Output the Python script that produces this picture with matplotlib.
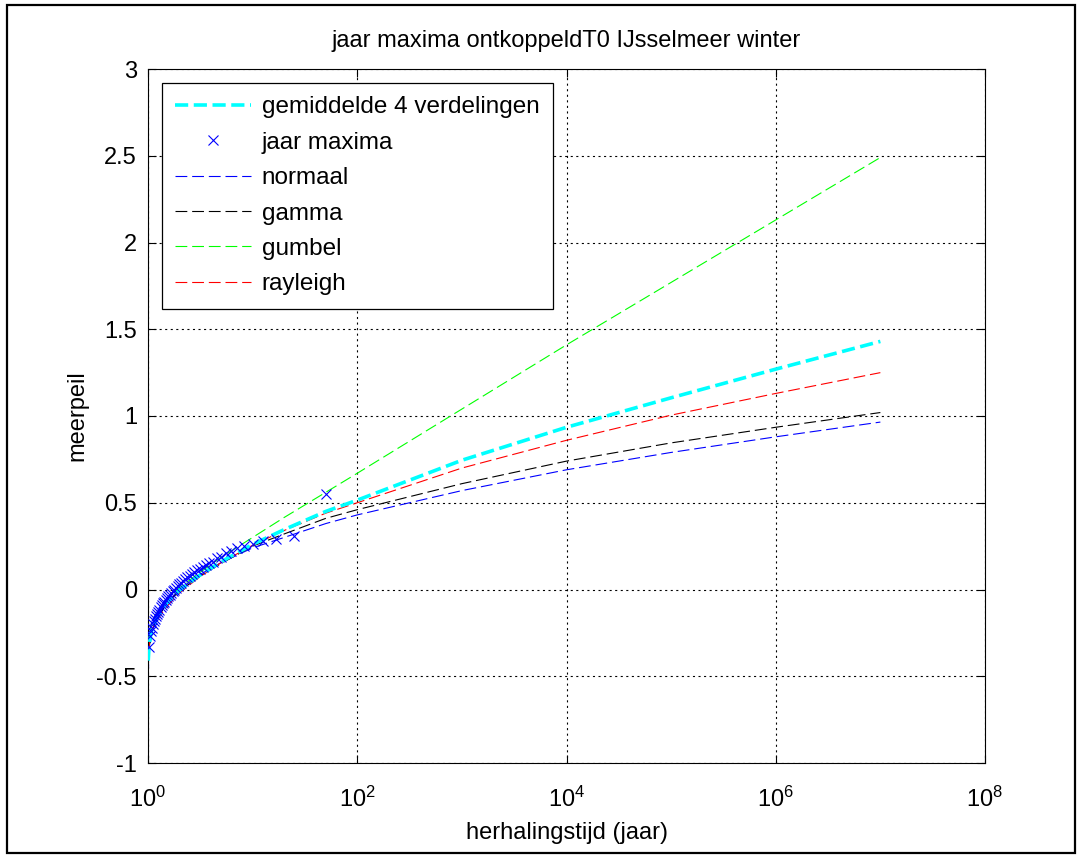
import matplotlib
matplotlib.use('Agg')
import matplotlib.pyplot as plt
from matplotlib.patches import Rectangle
import numpy as np

plt.rcParams['font.family'] = ['Liberation Sans', 'DejaVu Sans']
plt.rcParams['mathtext.default'] = 'regular'
plt.rcParams['lines.scale_dashes'] = False

# empirical annual maxima (return period T = 50/m)
T_obs = [50, 25, 16.7, 12.5, 10, 8.33, 7.14, 6.25, 5.56, 5.0, 4.55, 4.17, 3.85,
         3.57, 3.33, 3.125, 2.94, 2.78, 2.63, 2.5, 2.38, 2.27, 2.17, 2.08, 2.0,
         1.92, 1.85, 1.79, 1.72, 1.67, 1.61, 1.56, 1.52, 1.47, 1.43, 1.39, 1.35,
         1.32, 1.28, 1.25, 1.22, 1.19, 1.16, 1.14, 1.11, 1.09, 1.06, 1.04, 1.02]
y_obs = [0.55, 0.31, 0.29, 0.28, 0.26, 0.25, 0.24, 0.22, 0.21, 0.19, 0.18, 0.16,
         0.15, 0.14, 0.13, 0.12, 0.11, 0.10, 0.09, 0.08, 0.07, 0.06, 0.05, 0.04,
         0.03, 0.02, 0.01, 0.00, -0.01, -0.02, -0.03, -0.04, -0.05, -0.06, -0.07,
         -0.08, -0.09, -0.10, -0.12, -0.13, -0.14, -0.15, -0.17, -0.18, -0.20,
         -0.22, -0.24, -0.27, -0.33]

# fitted distributions
T_fit = [1.005, 1.02, 1.05, 1.1, 1.2, 1.5, 2, 3, 5, 10, 20, 50, 1e2, 1e3, 1e4, 1e5, 1e6, 1e7]
normaal = [-0.50, -0.38, -0.31, -0.24, -0.18, -0.08, 0.00, 0.08, 0.155, 0.24, 0.30, 0.38,
           0.43, 0.57, 0.69, 0.79, 0.88, 0.965]
gamma = [-0.42, -0.35, -0.29, -0.23, -0.18, -0.08, -0.01, 0.07, 0.15, 0.25, 0.32, 0.41,
         0.46, 0.61, 0.74, 0.845, 0.935, 1.02]
gumbel = [-0.36, -0.31, -0.23, -0.18, -0.14, -0.065, 0.01, 0.09, 0.185, 0.30, 0.415, 0.56,
          0.67, 1.04, 1.41, 1.77, 2.13, 2.49]
rayleigh = [-0.37, -0.34, -0.27, -0.23, -0.185, -0.10, -0.02, 0.065, 0.155, 0.255, 0.34,
            0.44, 0.50, 0.70, 0.86, 1.005, 1.13, 1.25]
gemiddelde = [-0.41, -0.345, -0.275, -0.22, -0.17, -0.08, -0.005, 0.075, 0.16, 0.26,
              0.345, 0.45, 0.515, 0.745, 0.935, 1.105, 1.27, 1.43]

xticks = [1e0, 1e2, 1e4, 1e6, 1e8]
xticklabels = [r'$10^{0}$', r'$10^{2}$', r'$10^{4}$', r'$10^{6}$', r'$10^{8}$']
yticks = [-1, -0.5, 0, 0.5, 1, 1.5, 2, 2.5, 3]
yticklabels = ['-1', '-0.5', '0', '0.5', '1', '1.5', '2', '2.5', '3']

fig = plt.figure(figsize=(10.81, 8.58), dpi=100)
ax = fig.add_axes([148/1081, 1 - 763/858, 837/1081, 694/858])

ax.plot(T_fit, gemiddelde, color='cyan', lw=2.6, dashes=(9.5, 4), label='gemiddelde 4 verdelingen', zorder=4)
ax.plot(T_obs, y_obs, 'x', color='blue', ms=7.5, mew=0.8, label='jaar maxima', zorder=5)
ax.plot(T_fit, normaal, color='blue', lw=0.8, dashes=(8.5, 3.5), label='normaal')
ax.plot(T_fit, gamma, color='black', lw=0.8, dashes=(8.5, 3.5), label='gamma')
ax.plot(T_fit, gumbel, color='#00ff00', lw=0.8, dashes=(8.5, 3.5), label='gumbel')
ax.plot(T_fit, rayleigh, color='red', lw=0.8, dashes=(8.5, 3.5), label='rayleigh')

ax.set_xscale('log')
ax.set_xlim(1, 1e8)
ax.set_ylim(-1, 3)
ax.set_xticks(xticks)
ax.set_xticklabels(xticklabels)
ax.xaxis.set_minor_locator(matplotlib.ticker.NullLocator())
ax.set_yticks(yticks)
ax.set_yticklabels(yticklabels)
ax.tick_params(direction='in', top=True, right=True, labelsize=17, length=6, width=0.8)
ax.tick_params(axis='x', pad=17)
ax.tick_params(axis='y', pad=8)
ax.grid(True, color='black', linestyle=(0, (1.5, 2.5)), linewidth=0.8)
for s in ax.spines.values():
    s.set_linewidth(0.8)

ax.set_title('jaar maxima ontkoppeldT0 IJsselmeer winter', fontsize=17, pad=16)
ax.set_xlabel('herhalingstijd (jaar)', fontsize=17, labelpad=7)
ax.set_ylabel('meerpeil', fontsize=17, labelpad=6)

leg = ax.legend(loc='upper left', fontsize=17.5, frameon=True, fancybox=False,
                edgecolor='black', framealpha=1, handlelength=3.1, handletextpad=0.45,
                labelspacing=0.55, borderpad=0.55, borderaxespad=0,
                bbox_to_anchor=(14/837, 680/694))
leg.get_frame().set_linewidth(0.9)

fig.patches.append(Rectangle((7/1081, 1 - 853/858), 1068/1081, 848/858,
                             transform=fig.transFigure, fill=False,
                             edgecolor='black', lw=1.6))

fig.savefig('out.png', dpi=100)
